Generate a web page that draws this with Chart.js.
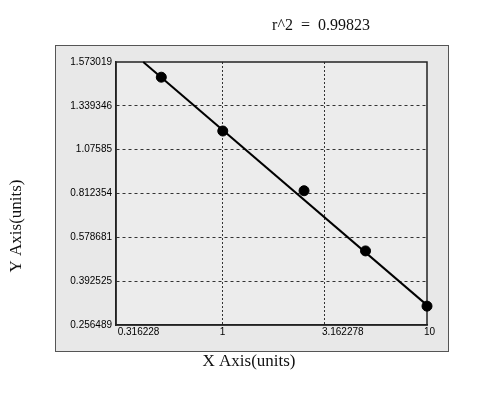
<!DOCTYPE html>
<html>
<head>
<meta charset="utf-8">
<script src="https://cdn.jsdelivr.net/npm/chart.js@4/dist/chart.umd.min.js"></script>
<style>
  html, body { margin: 0; padding: 0; background: #fff; }
  #wrap { width: 500px; height: 393px; }
</style>
</head>
<body>
<div id="wrap"><canvas id="chart" width="500" height="393"></canvas></div>
<script>
// standard points
const xValues = [0.5, 1, 2.5, 5, 10];
const yValues = [1.492, 1.188, 0.829, 0.521, 0.315];

// fitted line ends
const fitX = [0.408, 10];
const fitY = [1.573019, 0.318];

// axis ticks
const xTicks = [0.316228, 1, 3.162278, 10];
const xTickLabels = ["0.316228", "1", "3.162278", "10"];
const yTicks = [0.256489, 0.392525, 0.578681, 0.812354, 1.07585, 1.339346, 1.573019];
const yTickLabels = ["0.256489", "0.392525", "0.578681", "0.812354", "1.07585", "1.339346", "1.573019"];

const titleText = "r^2  =  0.99823";
const xTitle = "X Axis(units)";
const yTitle = "Y Axis(units)";


// y axis of the original puts its ticks at equal steps, so values are placed
// piecewise between neighbouring ticks
class StepScale extends Chart.Scale {
    determineDataLimits(){
        this.min = yTicks[0];
        this.max = yTicks[yTicks.length - 1];
    }
    buildTicks(){
        return yTicks.map(v => ({value: v}));
    }
    getLabelForValue(v){
        return String(v);
    }
    toIndex(v){
        const t = yTicks;
        const n = t.length - 1;
        if (v <= t[0]) return (v - t[0]) / (t[1] - t[0]);
        for (let i = 1; i <= n; i++){
            if (v <= t[i]) return i - 1 + (v - t[i-1]) / (t[i] - t[i-1]);
        }
        return n + (v - t[n]) / (t[n] - t[n-1]);
    }
    getPixelForValue(v){
        return this.getPixelForDecimal(this.toIndex(v) / (yTicks.length - 1));
    }
    getValueForPixel(p){
        const t = yTicks;
        const idx = this.getDecimalForPixel(p) * (t.length - 1);
        const i = Math.min(Math.max(Math.floor(idx), 0), t.length - 2);
        return t[i] + (idx - i) * (t[i+1] - t[i]);
    }
}
StepScale.id = "step";
StepScale.defaults = {};
Chart.register(StepScale);


//panel, frame and texts
const decor = {
    id: "decor",
    beforeDraw(chart){
        const c = chart.ctx;
        const a = chart.chartArea;
        c.save();
        c.fillStyle = "#ffffff";
        c.fillRect(0, 0, chart.width, chart.height);
        c.fillStyle = "#e8e8e8";
        c.fillRect(55, 45, 393, 306);
        c.strokeStyle = "#555";
        c.lineWidth = 1;
        c.strokeRect(55.5, 45.5, 393, 306);
        c.fillStyle = "#ececec";
        c.fillRect(a.left, a.top, a.right - a.left, a.bottom - a.top);
        c.restore();
    },
    beforeDatasetsDraw(chart){
        const c = chart.ctx;
        const a = chart.chartArea;
        c.save();
        c.strokeStyle = "#222";
        c.lineWidth = 1.5;
        c.strokeRect(a.left, a.top, a.right - a.left, a.bottom - a.top);
        c.restore();
    },
    afterDraw(chart){
        const c = chart.ctx;
        c.save();
        c.fillStyle = "#111";
        c.textAlign = "center";
        c.textBaseline = "middle";
        c.font = "16px 'Liberation Serif', 'DejaVu Serif', serif";
        c.fillText(titleText, 321, 26);
        c.font = "17px 'Liberation Serif', 'DejaVu Serif', serif";
        c.fillText(xTitle, 249, 362);
        c.translate(17, 226);
        c.rotate(-Math.PI / 2);
        c.fillText(yTitle, 0, 0);
        c.restore();
    }
};


const tickFont = {family: "'Liberation Sans', Arial, sans-serif", size: 10};

// no grid line on the frame edges
const innerGrid = n => ctx => (ctx.index === 0 || ctx.index === n - 1) ? "rgba(0,0,0,0)" : "#333";

const configChart =
{
    type: "scatter",
    data: {
        datasets: [
            {
                data: fitX.map((x, i) => ({x: x, y: fitY[i]})),
                showLine: true,
                borderColor: "#000",
                borderWidth: 2,
                pointRadius: 0
            },
            {
                data: xValues.map((x, i) => ({x: x, y: yValues[i]})),
                showLine: false,
                backgroundColor: "#000",
                borderColor: "#000",
                pointRadius: 5,
                clip: false
            }
        ]
    },
    options: {
        responsive: false,
        animation: false,
        layout: {
            padding: {left: 0, top: 62, right: 73, bottom: 0}
        },
        scales: {
            x: {
                type: "logarithmic",
                min: 0.316228,
                max: 10,
                afterBuildTicks: s => { s.ticks = xTicks.map(v => ({value: v})); },
                afterFit: s => { s.height = 68; },
                ticks: {
                    align: "start",
                    labelOffset: -3,
                    padding: 1,
                    autoSkip: false,
                    maxRotation: 0,
                    color: "#000",
                    font: tickFont,
                    callback: (v, i) => xTickLabels[i]
                },
                grid: {
                    color: innerGrid(xTicks.length),
                    lineWidth: 1,
                    drawTicks: false
                },
                border: {display: true, color: "#222", width: 1.5, dash: [2, 2]}
            },
            y: {
                type: "step",
                position: "left",
                afterFit: s => { s.width = 116; },
                ticks: {
                    padding: 4,
                    autoSkip: false,
                    color: "#000",
                    font: tickFont,
                    callback: (v, i) => yTickLabels[i]
                },
                grid: {
                    color: innerGrid(yTicks.length),
                    lineWidth: 1,
                    drawTicks: false
                },
                border: {display: true, color: "#222", width: 1.5, dash: [3, 3]}
            }
        },
        plugins: {
            legend: {display: false},
            tooltip: {enabled: false},
            title: {display: false}
        }
    },
    plugins: [decor]
};

const chart = new Chart(document.querySelector("#chart"), configChart);
</script>
</body>
</html>
